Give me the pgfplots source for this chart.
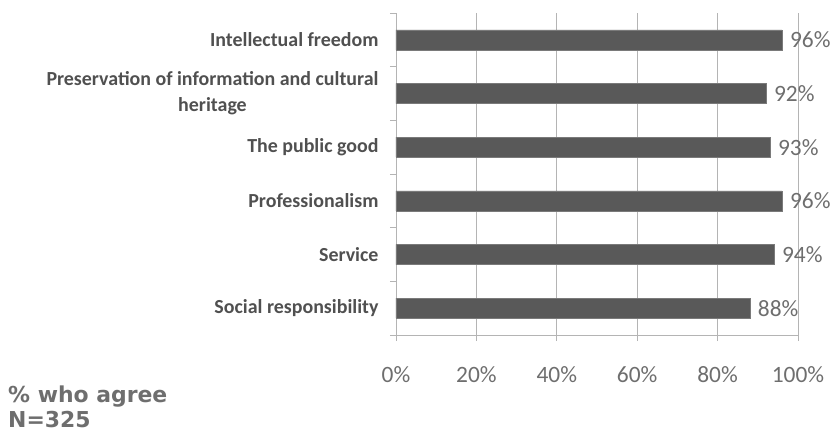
\documentclass[border=0pt]{standalone}
\usepackage{pgfplots}
\pgfplotsset{compat=1.18}
\usepackage{fontspec}
\setmainfont{Carlito}
\newfontfamily\verd{DejaVu Sans}
\definecolor{barc}{HTML}{595959}
\definecolor{txt}{HTML}{6E6E6E}
\definecolor{lbl}{HTML}{505050}
\definecolor{gridc}{HTML}{B4B4B4}
\begin{document}
\begin{tikzpicture}[x=1bp,y=1bp]
\path[use as bounding box] (-396,-98) rectangle (440,335);
\begin{axis}[
  at={(0,0)}, anchor=south west,
  scale only axis, width=402bp, height=322bp,
  xmin=0, xmax=100, ymin=-0.5, ymax=5.5,
  y dir=reverse,
  axis lines=left,
  axis line style={gridc, -},
  /pgf/number format/assume math mode=true,
  xtick={0,20,40,60,80,100},
  xticklabels={0\%,20\%,40\%,60\%,80\%,100\%},
  xticklabel style={font=\fontsize{23.5}{24}\selectfont, text=txt, yshift=-28bp},
  xmajorgrids, major grid style={gridc, line width=0.8pt},
  ytick={0,1,2,3,4,5},
  yticklabels={Intellectual freedom,{Preservation of information and cultural\\heritage},The public good,Professionalism,Service,Social responsibility},
  yticklabel style={font=\bfseries\fontsize{20}{26}\selectfont, text=lbl, align=center, xshift=-14bp},
  minor ytick={-0.5,0.5,1.5,2.5,3.5,4.5,5.5},
  major tick length=0pt,
  minor tick length=6bp,
  every tick/.style={gridc, line width=0.8pt},
  extra x ticks={0,20,40,60,80,100},
  extra x tick labels={},
  extra x tick style={major tick length=6bp, tick align=outside, grid=none},
  tick align=outside,
  xbar, bar width=20bp,
  nodes near coords={\pgfmathprintnumber{\pgfplotspointmeta}\%},
  nodes near coords style={font=\fontsize{23.5}{24}\selectfont, text=txt, anchor=west, inner sep=0pt, xshift=8bp},
  point meta=x,
  clip=false,
]
\addplot[fill=barc, draw=barc!80] coordinates {(96,0) (92,1) (93,2) (96,3) (94,4) (88,5)};
\end{axis}
\node[anchor=base west, inner sep=0, text=txt, font=\verd\bfseries\fontsize{22}{22}\selectfont] at (-388,-68) {\% who agree};
\node[anchor=base west, inner sep=0, text=txt, font=\verd\bfseries\fontsize{22}{22}\selectfont] at (-388,-93) {N=325};
\end{tikzpicture}
\end{document}
